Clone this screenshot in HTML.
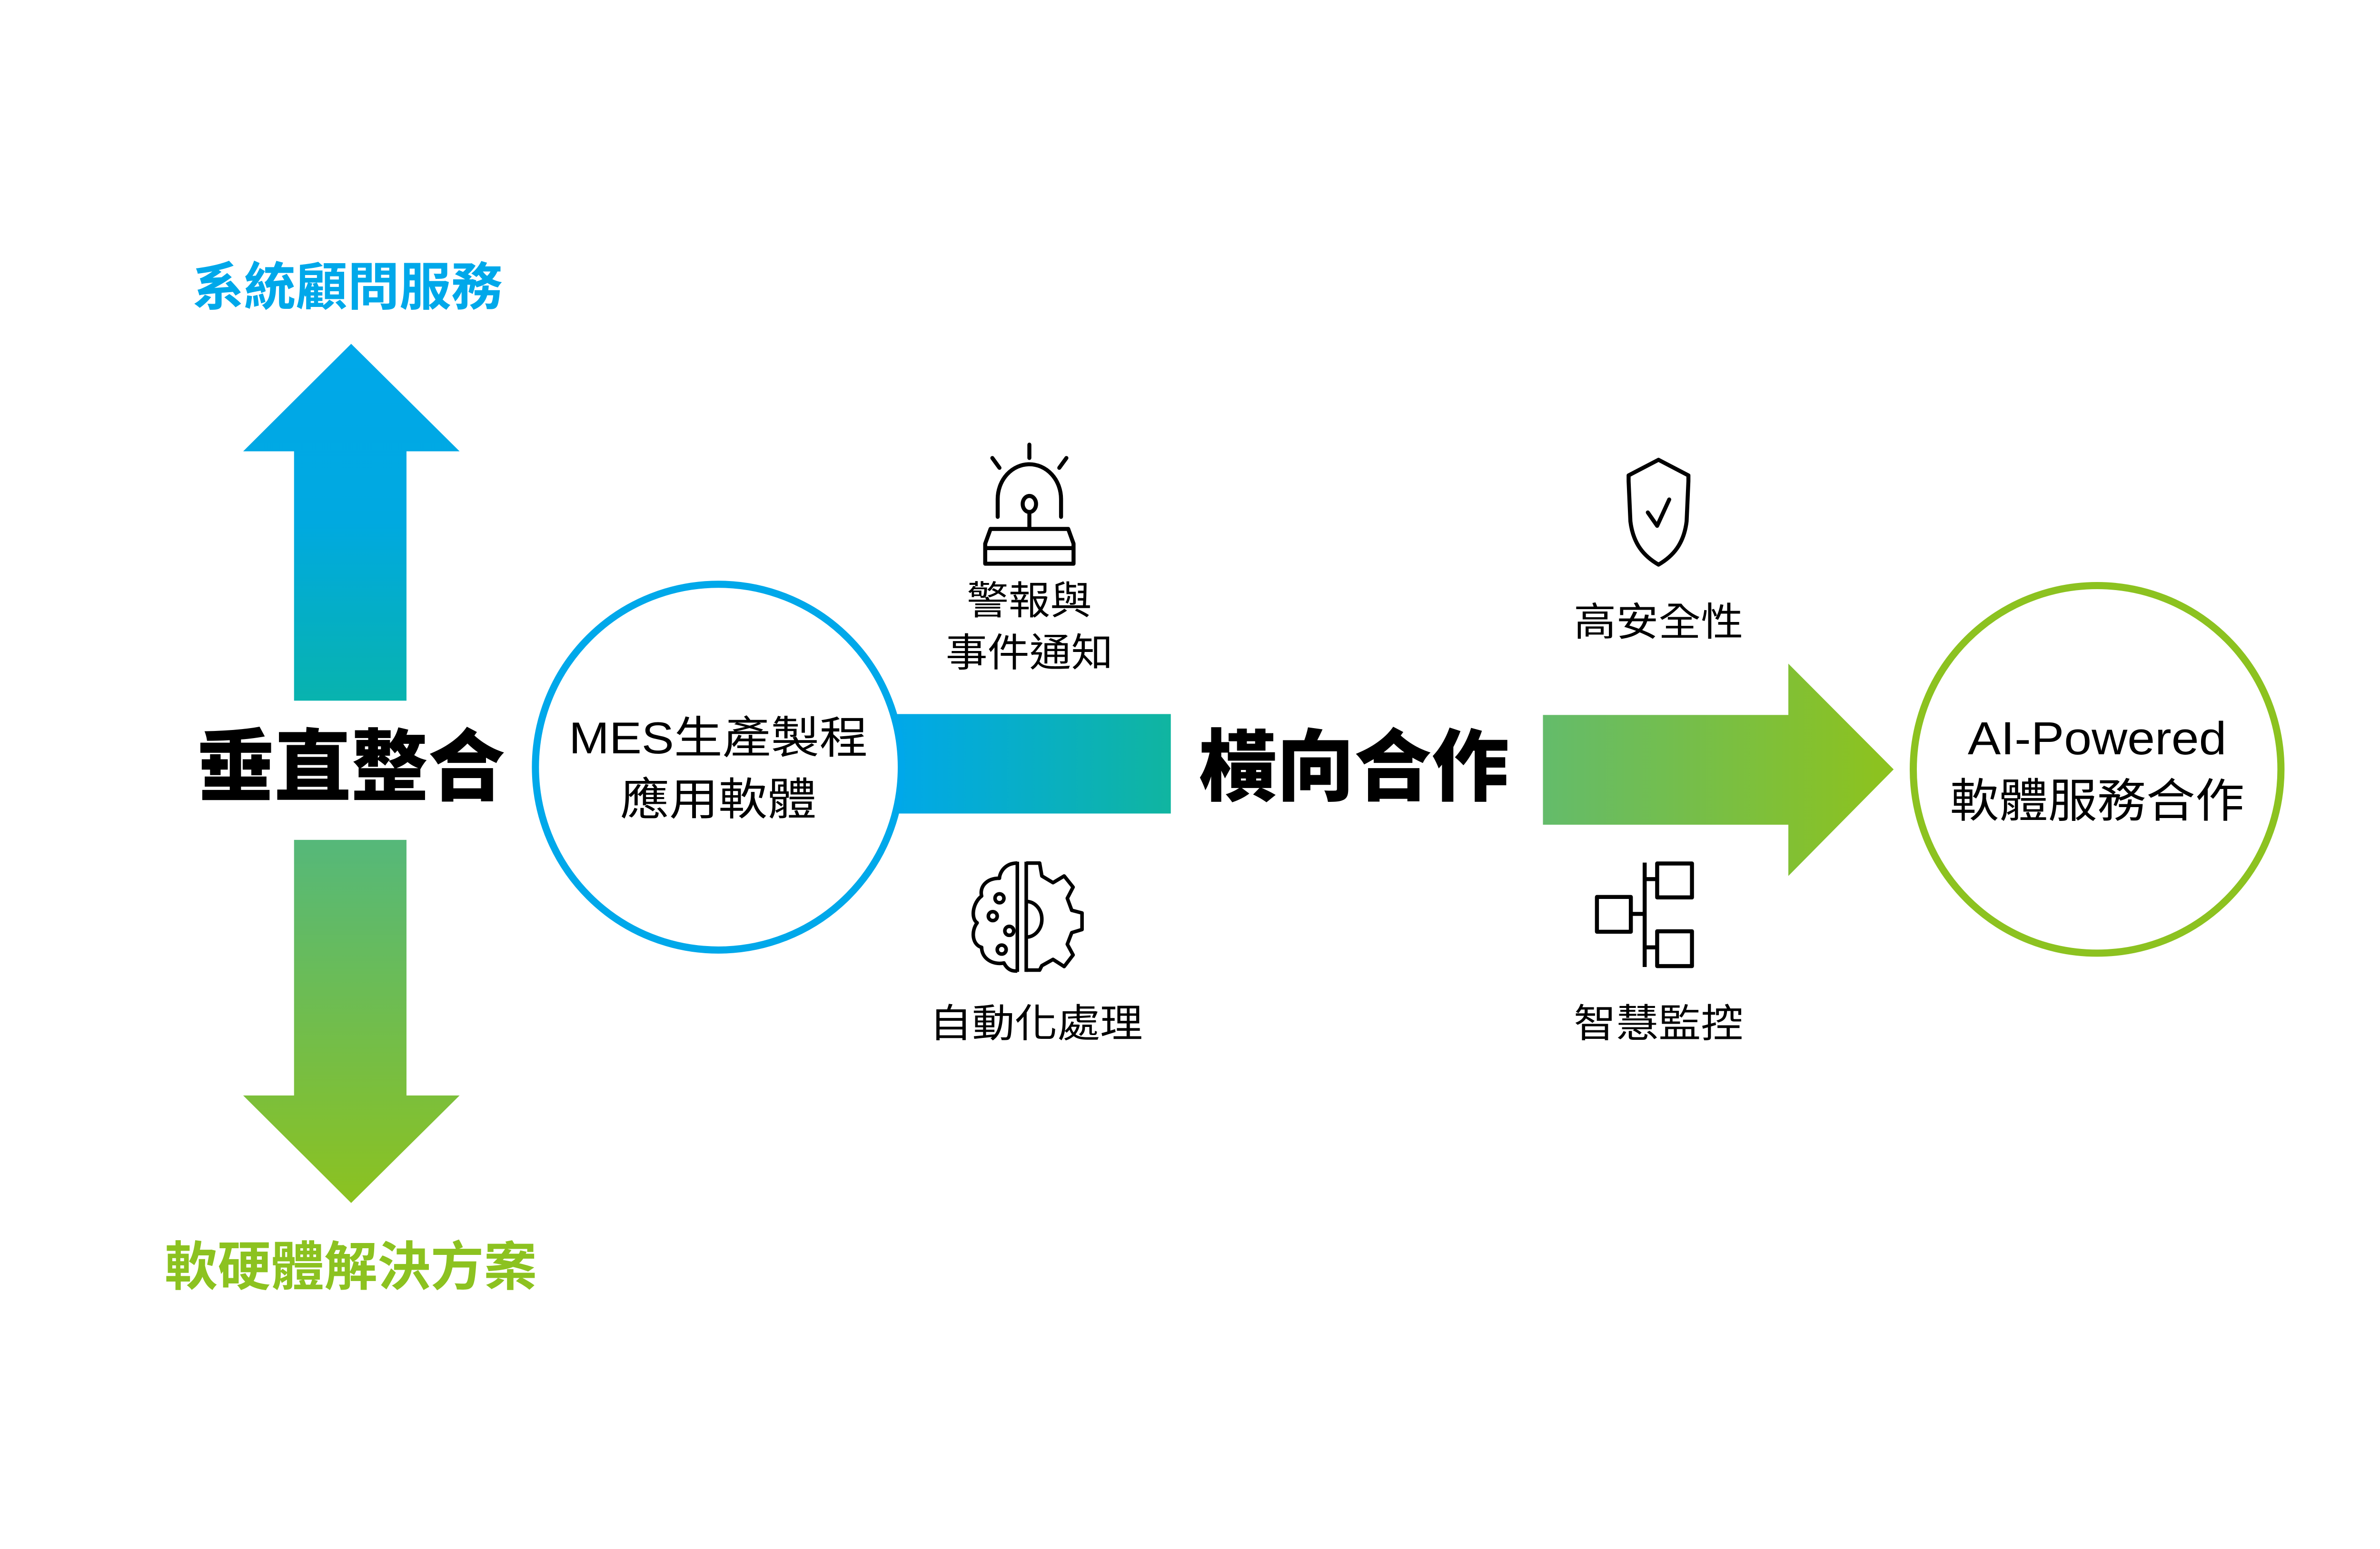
<!DOCTYPE html>
<html><head><meta charset="utf-8"><style>
html,body{margin:0;padding:0;background:#fff;overflow:hidden;width:100%;height:100%;}
svg{display:block;width:100vw;height:100vh;}
text{font-family:"Liberation Sans","Noto Sans CJK TC",sans-serif;}
</style></head><body>
<svg viewBox="0 0 5334 3255" preserveAspectRatio="xMidYMid meet" xmlns="http://www.w3.org/2000/svg">
<defs>
<linearGradient id="gu" x1="0" y1="0" x2="0" y2="1"><stop offset="0" stop-color="#00a8ea"/><stop offset="0.5" stop-color="#00a9e0"/><stop offset="1" stop-color="#08b3ae"/></linearGradient>
<linearGradient id="gd" x1="0" y1="0" x2="0" y2="1"><stop offset="0" stop-color="#55b87a"/><stop offset="1" stop-color="#8cc220"/></linearGradient>
<linearGradient id="gb" x1="0" y1="0" x2="1" y2="0"><stop offset="0" stop-color="#00a8ea"/><stop offset="1" stop-color="#10b5a0"/></linearGradient>
<linearGradient id="gg" x1="3428" y1="0" x2="4206" y2="0" gradientUnits="userSpaceOnUse"><stop offset="0" stop-color="#62bb6e"/><stop offset="1" stop-color="#8cc220"/></linearGradient>
</defs>
<rect width="5334" height="3255" fill="#fff"/>

<text x="779" y="575" font-size="116" font-weight="700" fill="#00a8ea" text-anchor="middle" textLength="696" lengthAdjust="spacingAndGlyphs">系統顧問服務</text>
<polygon points="787,662 1030,903 911,903 911,1462 659,1462 659,903 545,903" fill="url(#gu)"/>
<text x="787" y="1672" font-size="176" font-weight="900" fill="#000" text-anchor="middle" textLength="690" lengthAdjust="spacingAndGlyphs">垂直整合</text>
<polygon points="659,1774 911,1774 911,2347 1030,2347 787,2588 545,2347 659,2347" fill="url(#gd)"/>
<text x="786" y="2772" font-size="118" font-weight="700" fill="#8cc220" text-anchor="middle" textLength="835" lengthAdjust="spacingAndGlyphs">軟硬體解決方案</text>

<rect x="2000" y="1492" width="624" height="223" fill="url(#gb)"/>
<circle cx="1610" cy="1611" r="410" fill="#fff" stroke="#00a8ea" stroke-width="16"/>
<text x="1610" y="1580" font-size="100" fill="#000" text-anchor="middle" textLength="670" lengthAdjust="spacingAndGlyphs">MES生產製程</text>
<text x="1610" y="1718" font-size="100" fill="#000" text-anchor="middle" textLength="440" lengthAdjust="spacingAndGlyphs">應用軟體</text>

<text x="3035" y="1672" font-size="176" font-weight="900" fill="#000" text-anchor="middle" textLength="694" lengthAdjust="spacingAndGlyphs">橫向合作</text>
<polygon points="3458,1494 4008,1494 4008,1379 4244,1616 4008,1855 4008,1740 3458,1740" fill="url(#gg)"/>
<circle cx="4700" cy="1616" r="412" fill="#fff" stroke="#8cc220" stroke-width="16"/>
<text x="4700" y="1582" font-size="104" fill="#000" text-anchor="middle" textLength="580" lengthAdjust="spacingAndGlyphs">AI-Powered</text>
<text x="4700" y="1723" font-size="104" fill="#000" text-anchor="middle" textLength="660" lengthAdjust="spacingAndGlyphs">軟體服務合作</text>

<g fill="none" stroke="#000" stroke-width="9" stroke-linejoin="round" stroke-linecap="round">
<line x1="2307" y1="888" x2="2307" y2="918"/>
<line x1="2224" y1="918" x2="2240" y2="940"/>
<line x1="2390" y1="918" x2="2374" y2="940"/>
<path d="M2236,1050 L2236,1010 A71,78 0 0 1 2378,1010 L2378,1050"/>
<ellipse cx="2307" cy="1021" rx="15" ry="18"/>
<line x1="2307" y1="1039" x2="2307" y2="1077"/>
<path d="M2220,1077 L2394,1077 L2406,1110 L2406,1155 L2208,1155 L2208,1110 Z"/>
<line x1="2210" y1="1120" x2="2404" y2="1120"/>
</g>
<text x="2307" y="1268" font-size="88" fill="#000" text-anchor="middle" textLength="280" lengthAdjust="spacingAndGlyphs">警報與</text>
<text x="2307" y="1385" font-size="88" fill="#000" text-anchor="middle" textLength="375" lengthAdjust="spacingAndGlyphs">事件通知</text>

<g fill="none" stroke="#000" stroke-width="8" stroke-linejoin="round">
<path d="M2280,1823 L2280,2070 M2300,1823 L2300,2070"/>
<path d="M2280,1826 C2250,1826 2240,1850 2240,1860 C2210,1860 2195,1880 2200,1900 C2180,1915 2175,1950 2190,1960 C2175,1980 2180,2010 2200,2015 C2200,2040 2225,2055 2250,2050 C2260,2070 2275,2068 2280,2068"/>
<path d="M2300,1826 L2330,1826 L2335,1855 L2360,1870 L2385,1855 L2405,1880 L2392,1905 L2402,1932 L2425,1938 L2425,1975 L2402,1982 L2392,2008 L2405,2032 L2385,2058 L2360,2042 L2335,2056 L2330,2066 L2300,2066"/>
<path d="M2300,1912 A35,40 0 0 1 2300,1992"/>
<circle cx="2240" cy="1905" r="10"/><circle cx="2225" cy="1945" r="10"/><circle cx="2262" cy="1978" r="10"/><circle cx="2245" cy="2020" r="10"/>
</g>
<text x="2322" y="2216" font-size="88" fill="#000" text-anchor="middle" textLength="478" lengthAdjust="spacingAndGlyphs">自動化處理</text>

<g fill="none" stroke="#000" stroke-width="9" stroke-linejoin="round" stroke-linecap="round">
<path d="M3717,922 L3784,957 L3784,970 L3780,1060 C3774,1110 3750,1138 3717,1157 C3684,1138 3660,1110 3654,1060 L3650,970 L3650,957 Z"/>
<path d="M3693,1040 L3714,1070 L3741,1011"/>
</g>
<text x="3717" y="1316" font-size="88" fill="#000" text-anchor="middle" textLength="380" lengthAdjust="spacingAndGlyphs">高安全性</text>

<g fill="none" stroke="#000" stroke-width="9" stroke-linejoin="round">
<rect x="3714" y="1827" width="78" height="76"/>
<rect x="3714" y="1979" width="78" height="78"/>
<rect x="3579" y="1902" width="76" height="78"/>
<path d="M3686,1825 L3686,2059"/>
<path d="M3686,1862 L3714,1862 M3686,2015 L3714,2015 M3655,1940 L3686,1940"/>
</g>
<text x="3717" y="2216" font-size="88" fill="#000" text-anchor="middle" textLength="380" lengthAdjust="spacingAndGlyphs">智慧監控</text>
</svg>
</body></html>
